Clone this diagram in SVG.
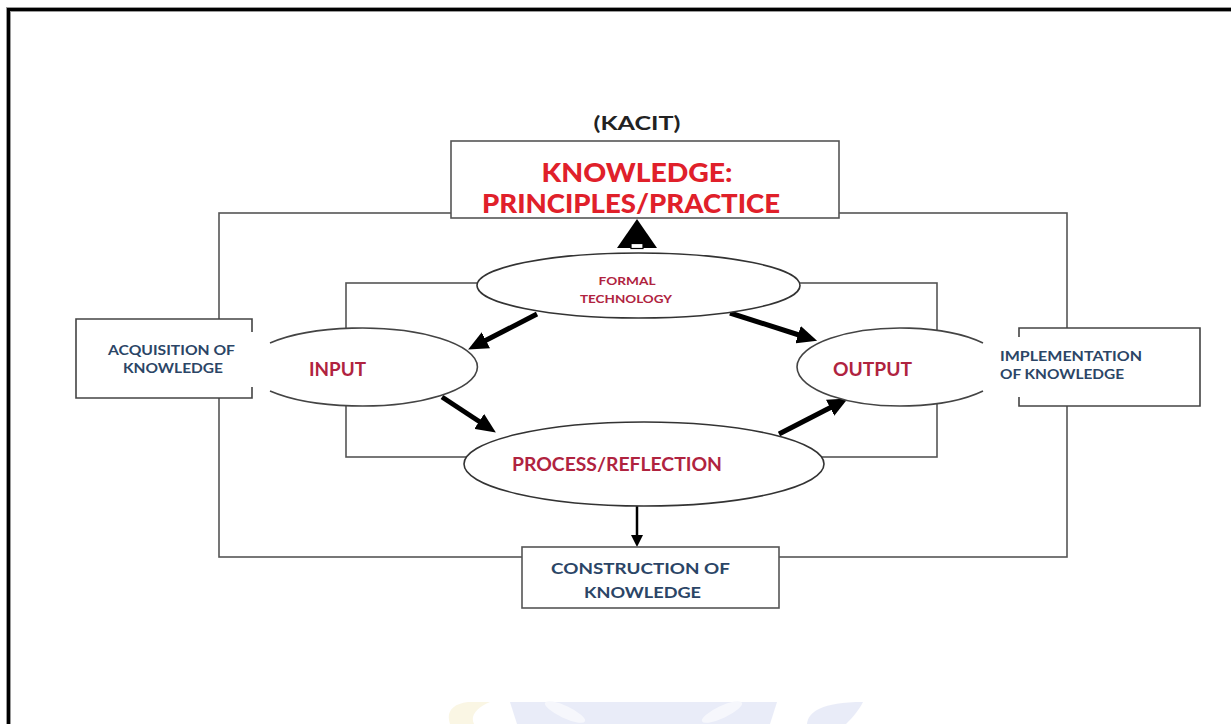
<svg xmlns="http://www.w3.org/2000/svg" width="1231" height="724" viewBox="0 0 1231 724">
  <style>
    .frame { fill: none; stroke: #555; stroke-width: 1.6; }
    .node { fill: #fff; stroke: none; }
    .edge { fill: none; stroke: #444; stroke-width: 1.6; }
    .arrow { fill: none; stroke: #000; stroke-width: 5; }
    .thin { fill: none; stroke: #000; stroke-width: 2.5; }
    .title { font-family: Lato, "Open Sans", sans-serif; font-weight: 900; fill: #e0202a; font-size: 26px; text-anchor: middle; }
    .red { font-family: Lato, "Open Sans", sans-serif; font-weight: bold; fill: #b0233f; text-anchor: middle; }
    .blue { font-family: Lato, "Open Sans", sans-serif; font-weight: bold; fill: #2b4566; }
  </style>
  <defs>
    <marker id="head" viewBox="0 0 20 18" markerWidth="20" markerHeight="18" refX="1" refY="9" orient="auto" markerUnits="userSpaceOnUse">
      <path d="M0,0 L20,9 L0,18 z" fill="#000"/>
    </marker>
    <marker id="headSmall" viewBox="0 0 12 12" markerWidth="12" markerHeight="12" refX="1" refY="6" orient="auto" markerUnits="userSpaceOnUse">
      <path d="M0,0 L12,6 L0,12 z" fill="#000"/>
    </marker>
  </defs>

  <rect width="1231" height="724" fill="#fff"/>

  <!-- page frame, open to the right and bottom -->
  <path d="M8.5 740 V9.5 H1240" fill="none" stroke="#9a9a9a" stroke-width="5"/>
  <path d="M8.5 740 V9.5 H1240" fill="none" stroke="#000" stroke-width="3"/>

  <!-- faint emblem at the foot of the page -->
  <g id="emblem" opacity="0.3">
    <path d="M450 724 C446 712 452 704 468 702 L490 702 C476 708 470 716 474 724 Z" fill="#f1e2a8"/>
    <path d="M510 702 H777 L770 724 H517 Z" fill="#b9c2ea"/>
    <ellipse cx="565" cy="712" rx="22" ry="6" transform="rotate(25 565 712)" fill="#e4e8f7"/>
    <ellipse cx="722" cy="712" rx="22" ry="6" transform="rotate(-25 722 712)" fill="#e4e8f7"/>
    <path d="M807 724 C808 712 822 702 863 702 C858 712 850 720 846 724 Z" fill="#b9c2ea"/>
  </g>

  <!-- outer and inner loops -->
  <g id="loops">
    <rect class="frame" x="219" y="213" width="848" height="344"/>
    <rect class="frame" x="346" y="283" width="591" height="174"/>
  </g>

  <!-- connectors -->
  <g id="connectors">
    <line class="arrow" x1="537" y1="314" x2="485" y2="340.8" marker-end="url(#head)"/>
    <line class="arrow" x1="730" y1="313" x2="799" y2="335" marker-end="url(#head)"/>
    <line class="arrow" x1="442" y1="397" x2="480" y2="422" marker-end="url(#head)"/>
    <line class="arrow" x1="779" y1="434" x2="831" y2="407.2" marker-end="url(#head)"/>
    <line class="thin" x1="637" y1="506" x2="637" y2="536" marker-end="url(#headSmall)"/>
  </g>

  <!-- KACIT heading and knowledge box -->
  <g id="knowledge">
    <text x="637" y="130" font-family="Lato, 'Open Sans', sans-serif" font-weight="bold" font-size="19" fill="#222" text-anchor="middle" textLength="87" lengthAdjust="spacingAndGlyphs">(KACIT)</text>
    <rect x="451" y="141" width="388" height="77" fill="#fff" stroke="#555" stroke-width="1.6"/>
    <text class="title" x="637" y="182" textLength="191" lengthAdjust="spacingAndGlyphs">KNOWLEDGE:</text>
    <text class="title" x="631" y="213" textLength="298" lengthAdjust="spacingAndGlyphs">PRINCIPLES/PRACTICE</text>
    <polygon points="637,219 657,248 617,248" fill="#000"/>
    <rect x="631" y="243.5" width="12" height="5" fill="#fff" stroke="#000" stroke-width="1.2"/>
  </g>

  <!-- formal technology -->
  <g id="formal-technology">
    <ellipse cx="638.5" cy="285.5" rx="161.5" ry="32.5" fill="#fff" stroke="#333" stroke-width="1.6"/>
    <text class="red" x="627" y="285" font-size="12" textLength="57" lengthAdjust="spacingAndGlyphs">FORMAL</text>
    <text class="red" x="626" y="303" font-size="12" textLength="92" lengthAdjust="spacingAndGlyphs">TECHNOLOGY</text>
  </g>

  <!-- acquisition of knowledge -->
  <g id="acquisition">
    <rect class="node" x="76" y="319" width="176" height="79"/>
    <path class="edge" d="M252 332 V319 H76 V398 H252 V387"/>
    <text class="blue" x="171.5" y="355" font-size="14" text-anchor="middle" textLength="127" lengthAdjust="spacingAndGlyphs">ACQUISITION OF</text>
    <text class="blue" x="173" y="373" font-size="14" text-anchor="middle" textLength="100" lengthAdjust="spacingAndGlyphs">KNOWLEDGE</text>
  </g>

  <!-- input -->
  <g id="input">
    <ellipse class="node" cx="361" cy="367" rx="116" ry="39"/>
    <path class="edge" d="M270 343 A116 39 0 1 1 270 391"/>
    <text class="red" x="337.5" y="376" font-size="18" textLength="57" lengthAdjust="spacingAndGlyphs">INPUT</text>
  </g>

  <!-- output -->
  <g id="output">
    <ellipse class="node" cx="901" cy="367" rx="104" ry="39"/>
    <path class="edge" d="M983 343 A104 39 0 1 0 983 391"/>
    <text class="red" x="872.5" y="376" font-size="18" textLength="79" lengthAdjust="spacingAndGlyphs">OUTPUT</text>
  </g>

  <!-- implementation of knowledge -->
  <g id="implementation">
    <rect class="node" x="1019" y="328" width="181" height="78"/>
    <path class="edge" d="M1019 337 V328 H1200 V406 H1019 V397"/>
    <text class="blue" x="1000" y="361" font-size="14" textLength="142" lengthAdjust="spacingAndGlyphs">IMPLEMENTATION</text>
    <text class="blue" x="1000" y="379" font-size="14" textLength="124" lengthAdjust="spacingAndGlyphs">OF KNOWLEDGE</text>
  </g>

  <!-- process / reflection -->
  <g id="process-reflection">
    <ellipse cx="644" cy="464" rx="180" ry="42" fill="#fff" stroke="#333" stroke-width="1.6"/>
    <text class="red" x="617" y="471" font-size="18" textLength="210" lengthAdjust="spacingAndGlyphs">PROCESS/REFLECTION</text>
  </g>

  <!-- construction of knowledge -->
  <g id="construction">
    <rect x="522" y="547" width="257" height="61" fill="#fff" stroke="#555" stroke-width="1.6"/>
    <text class="blue" x="640.5" y="574" font-size="16" text-anchor="middle" textLength="179" lengthAdjust="spacingAndGlyphs">CONSTRUCTION OF</text>
    <text class="blue" x="642.5" y="598" font-size="16" text-anchor="middle" textLength="117" lengthAdjust="spacingAndGlyphs">KNOWLEDGE</text>
  </g>
</svg>
